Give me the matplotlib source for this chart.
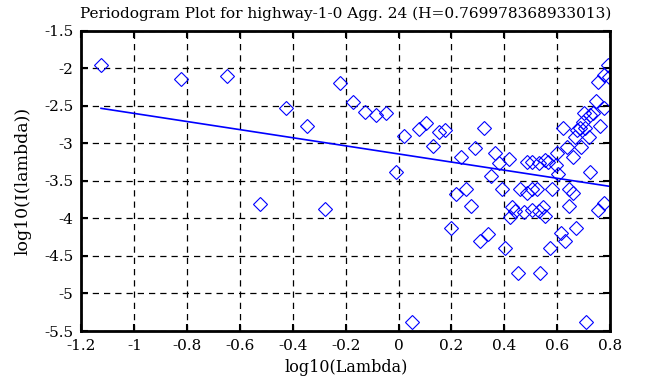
import matplotlib
matplotlib.use("Agg")
import matplotlib.pyplot as plt
import numpy as np

log_lambda = [
    -1.126, -0.823, -0.648, -0.524, -0.427, -0.347, -0.280, -0.223, -0.173, -0.126,
    -0.086, -0.047, -0.011, 0.020, 0.051, 0.078, 0.104, 0.131, 0.154, 0.174,
    0.197, 0.219, 0.236, 0.255, 0.273, 0.291, 0.307, 0.322, 0.337, 0.350,
    0.366, 0.379, 0.393, 0.404, 0.417, 0.423, 0.431, 0.442, 0.453, 0.461,
    0.474, 0.486, 0.486, 0.505, 0.505, 0.506, 0.524, 0.530, 0.530, 0.537,
    0.547, 0.556, 0.556, 0.567, 0.572, 0.581, 0.594, 0.600, 0.605, 0.613,
    0.623, 0.631, 0.638, 0.645, 0.644, 0.661, 0.662, 0.669, 0.673, 0.676,
    0.688, 0.691, 0.698, 0.707, 0.711, 0.720, 0.726, 0.726, 0.736, 0.701,
    0.749, 0.755, 0.755, 0.764, 0.777, 0.777, 0.777, 0.792, 0.795,
]
log_I = [
    -1.956, -2.143, -2.103, -3.813, -2.525, -2.765, -3.880, -2.192, -2.445, -2.587,
    -2.623, -2.600, -3.387, -2.903, -5.379, -2.813, -2.725, -3.036, -2.845, -2.823,
    -4.125, -3.672, -3.179, -3.609, -3.836, -3.059, -4.299, -2.792, -4.213, -3.432,
    -3.125, -3.267, -3.609, -4.392, -3.209, -3.979, -3.849, -3.899, -4.725, -3.609,
    -3.912, -3.253, -3.656, -3.245, -3.609, -3.889, -3.609, -3.267, -3.899, -4.725,
    -3.849, -3.223, -3.965, -3.245, -4.392, -3.609, -3.289, -3.125, -3.409, -4.200,
    -2.800, -4.299, -3.053, -3.609, -3.836, -3.179, -3.656, -2.912, -4.125, -2.823,
    -2.800, -3.053, -2.720, -2.800, -5.379, -2.912, -3.379, -2.623, -2.600, -2.600,
    -2.436, -3.889, -2.179, -2.769, -3.800, -2.533, -2.089, -1.956, -2.112,
]
H = 0.769978368933013
fit_slope = 1 - 2 * H
fit_intercept = -3.141

x_ticks = [-1.2, -1, -0.8, -0.6, -0.4, -0.2, 0, 0.2, 0.4, 0.6, 0.8]
x_tick_labels = ["-1.2", "-1", "-0.8", "-0.6", "-0.4", "-0.2", "0", "0.2", "0.4", "0.6", "0.8"]
y_ticks = [-5.5, -5, -4.5, -4, -3.5, -3, -2.5, -2, -1.5]
y_tick_labels = ["-5.5", "-5", "-4.5", "-4", "-3.5", "-3", "-2.5", "-2", "-1.5"]

plt.rcParams['font.family'] = ['DejaVu Serif']

fig = plt.figure(figsize=(6.63, 3.87), dpi=100)
ax = fig.add_axes([0.1229, 0.1447, 0.920 - 0.1229, 0.9204 - 0.1447])

ax.plot(log_lambda, log_I, linestyle='none', marker='D', markersize=7.0,
        markerfacecolor='none', markeredgecolor='#0000ff', markeredgewidth=0.8)
xs = np.array([min(log_lambda), max(log_lambda)])
ax.plot(xs, fit_intercept + fit_slope * xs, color='#0000ff', linewidth=1.2)

ax.set_xlim(-1.2, 0.8)
ax.set_ylim(-5.5, -1.5)
ax.set_xticks(x_ticks)
ax.set_xticklabels(x_tick_labels)
ax.set_yticks(y_ticks)
ax.set_yticklabels(y_tick_labels)
ax.grid(True, color='black', linestyle=(0, (5, 4)), linewidth=0.9)
ax.tick_params(direction='in', length=5, width=1.5, top=True, right=True,
               labelsize=11, pad=6, colors='black')
for s in ax.spines.values():
    s.set_linewidth(2)
    s.set_color('black')

ax.set_xlabel('log10(Lambda)', fontsize=11.5, labelpad=4)
ax.set_ylabel('log10(I(lambda))', fontsize=12.5, labelpad=9)
ax.set_title('Periodogram Plot for highway-1-0 Agg. 24 (H=0.769978368933013)',
             fontsize=11.1, pad=9)

fig.savefig('out.png', dpi=100)
